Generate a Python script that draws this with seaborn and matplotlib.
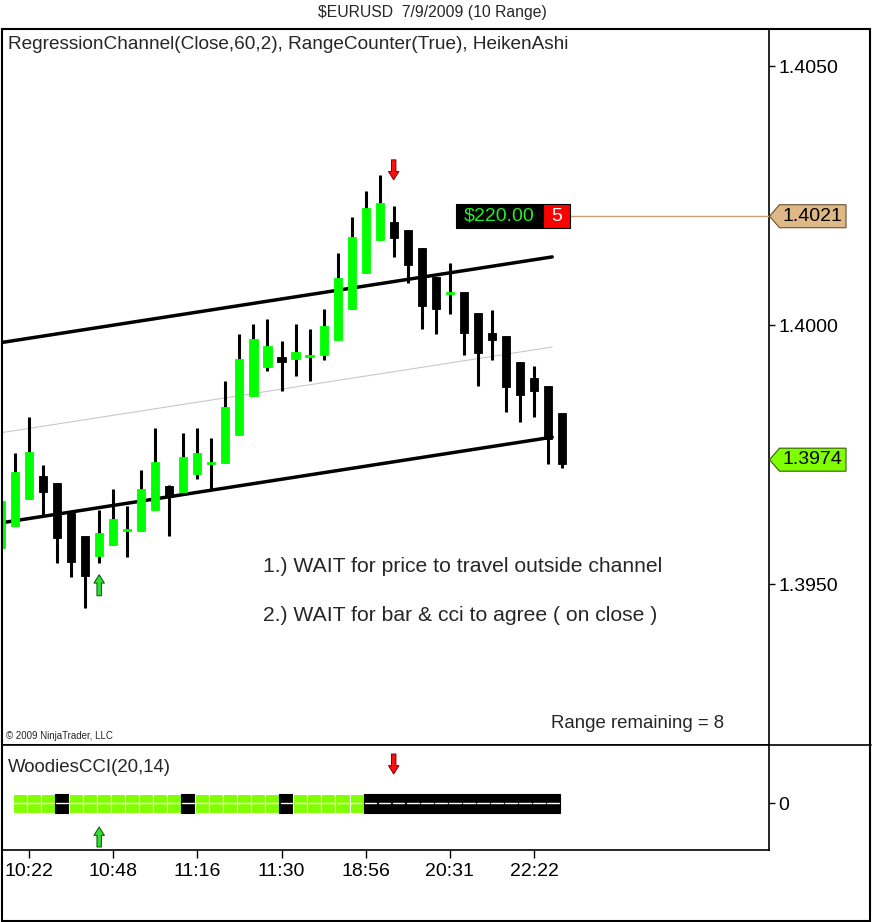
import numpy as np
import pandas as pd
import matplotlib
matplotlib.use("Agg")
import matplotlib.pyplot as plt
import matplotlib.transforms as mtrans
from matplotlib.patches import Polygon, Rectangle
from matplotlib.lines import Line2D
import seaborn as sns

# ---------------- data (Heiken Ashi 10-range bars, $EURUSD 7/9/2009) ----------------
opens = [1.39570, 1.39612, 1.39664, 1.39709, 1.39695, 1.39637, 1.39593, 1.39554, 1.39575, 1.39602,
         1.39602, 1.39643, 1.39689, 1.39678, 1.39712, 1.39732, 1.39734, 1.39788, 1.39863, 1.39919,
         1.39938, 1.39934, 1.39938, 1.39942, 1.39971, 1.40031, 1.40100, 1.40164, 1.40199, 1.40183,
         1.40149, 1.40093, 1.40060, 1.40064, 1.40023, 1.39985, 1.39979, 1.39929, 1.39898, 1.39882,
         1.39830]
highs = [1.39660, 1.39753, 1.39822, 1.39730, 1.39695, 1.39637, 1.39593, 1.39643, 1.39683, 1.39651,
         1.39720, 1.39801, 1.39692, 1.39792, 1.39801, 1.39782, 1.39892, 1.39983, 1.40002, 1.40012,
         1.39969, 1.40002, 1.39992, 1.40031, 1.40139, 1.40208, 1.40259, 1.40290, 1.40230, 1.40183,
         1.40149, 1.40093, 1.40120, 1.40064, 1.40023, 1.40029, 1.39979, 1.39929, 1.39921, 1.39882,
         1.39830]
lows = [1.39570, 1.39612, 1.39664, 1.39633, 1.39541, 1.39514, 1.39454, 1.39541, 1.39575, 1.39552,
        1.39602, 1.39643, 1.39593, 1.39678, 1.39703, 1.39681, 1.39734, 1.39788, 1.39863, 1.39911,
        1.39873, 1.39902, 1.39892, 1.39932, 1.39971, 1.40031, 1.40100, 1.40164, 1.40131, 1.40081,
        1.39992, 1.39983, 1.40021, 1.39942, 1.39882, 1.39932, 1.39832, 1.39813, 1.39822, 1.39732,
        1.39724]
closes = [1.39660, 1.39716, 1.39755, 1.39678, 1.39589, 1.39543, 1.39515, 1.39598, 1.39626, 1.39606,
          1.39683, 1.39736, 1.39668, 1.39745, 1.39753, 1.39736, 1.39842, 1.39934, 1.39973, 1.39960,
          1.39929, 1.39948, 1.39942, 1.39998, 1.40091, 1.40170, 1.40226, 1.40236, 1.40168, 1.40116,
          1.40037, 1.40031, 1.40063, 1.39985, 1.39946, 1.39971, 1.39880, 1.39865, 1.39873, 1.39780,
          1.39732]

# regression channel (Close, 60, 2)
reg_mid_at_bar0 = 1.39792
reg_slope = 0.0000421
reg_half_width = 0.00174
reg_end_bar = 39.3

# Woodies CCI trend colour for each step between consecutive bars (bar 1 -> bar 40)
cci_states = ["G"] * 3 + ["B"] + ["G"] * 8 + ["B"] + ["G"] * 6 + ["B"] + ["G"] * 5 + ["B"] * 14

buy_signal_bar = 7
sell_signal_bar = 28

price_ticks = [1.3950, 1.4000, 1.4050]
time_tick_bars = [2, 8, 14, 20, 26, 32, 38]
time_tick_labels = ["10:22", "10:48", "11:16", "11:30", "18:56", "20:31", "22:22"]

position_price = 1.4021
last_price = 1.3974
pnl_text = "$220.00"
position_qty = "5"
range_remaining = 8

title = "$EURUSD  7/9/2009 (10 Range)"
indicator_label = "RegressionChannel(Close,60,2), RangeCounter(True), HeikenAshi"
cci_label = "WoodiesCCI(20,14)"
notes = ["1.) WAIT for price to travel outside channel",
         "2.) WAIT for bar & cci to agree ( on close )"]

# ---------------- style ----------------
sns.set_theme(style="white")
plt.rcParams["font.family"] = ["Liberation Sans", "DejaVu Sans"]
NARROW = ["Liberation Sans Narrow", "Liberation Sans", "DejaVu Sans"]

W, H = 872, 922
fig = plt.figure(figsize=(W / 100, H / 100), dpi=100)
fig.patch.set_facecolor("white")


def fbox(l, t, r, b):
    return [l / W, 1 - b / H, (r - l) / W, (b - t) / H]


ax = fig.add_axes(fbox(2, 29, 769, 745))
cx = fig.add_axes(fbox(2, 745, 769, 850), sharex=ax)

BAR_PX = 14.025
ax.set_xlim(1 / BAR_PX, 768 / BAR_PX)
PX_PER_PRICE = 51800.0
ax.set_ylim(1.4 - 420 / PX_PER_PRICE, 1.4 + 296 / PX_PER_PRICE)

GREEN = "#00FF00"
df = pd.DataFrame(dict(bar=np.arange(len(opens)), open=opens, high=highs, low=lows, close=closes))
df["up"] = df["close"] >= df["open"]

# regression channel via seaborn
reg_x = np.array([-40.0, reg_end_bar])
mid = reg_mid_at_bar0 + reg_slope * reg_x
chan = pd.DataFrame({
    "bar": np.concatenate([reg_x, reg_x, reg_x]),
    "price": np.concatenate([mid + reg_half_width, mid, mid - reg_half_width]),
    "line": ["upper"] * 2 + ["mid"] * 2 + ["lower"] * 2,
})
sns.lineplot(data=chan, x="bar", y="price", hue="line", size="line",
             palette={"upper": "black", "mid": "#c8c8c8", "lower": "black"},
             sizes={"upper": 2.5, "mid": 0.8, "lower": 2.5},
             estimator=None, sort=False, legend=False, ax=ax, zorder=1)

# candles
ax.vlines(df["bar"], df["low"], df["high"], color="black", lw=2.2, zorder=2)
bottoms = np.minimum(df["open"], df["close"])
heights = np.maximum(np.abs(df["close"] - df["open"]), 0.00003)
colors = np.where(df["up"], GREEN, "black")
ax.bar(df["bar"], heights, bottom=bottoms, width=0.58, color=colors,
       edgecolor=colors, linewidth=0.6, zorder=3)

# signal arrows
def arrow(axis, x, y, dy_px, gap_px, fc, ec):
    axis.annotate("", xy=(x, y), xytext=(0, dy_px * 0.72), textcoords="offset points",
                  arrowprops=dict(arrowstyle="simple,head_length=0.6,head_width=0.75,tail_width=0.32",
                                  fc=fc, ec=ec, lw=0.7, shrinkA=0, shrinkB=gap_px * 0.72,
                                  mutation_scale=10), zorder=6)

arrow(ax, sell_signal_bar, highs[sell_signal_bar], 46, 26, "#FF1010", "#800000")
arrow(ax, buy_signal_bar, lows[buy_signal_bar], -33, 12, "#33DD33", "#005500")

# price axis on the right
for a in (ax, cx):
    a.yaxis.tick_right()
    a.tick_params(axis="y", direction="out", length=4, width=1, pad=3, labelsize=14,
                  colors="black", right=True, left=False)
    a.tick_params(axis="x", bottom=False, labelbottom=False)
    for s in a.spines.values():
        s.set_color("black")
        s.set_linewidth(1.2)
ax.set_yticks(price_ticks)
ax.set_yticklabels([f"{p:.4f}" for p in price_ticks])
ax.spines["top"].set_visible(False)
ax.spines["left"].set_visible(False)
ax.set_xlabel("")
ax.set_ylabel("")

# texts in price panel
AXW, AXH = 767, 716
ax.text(6 / AXW, 1 - (44 - 29) / AXH, indicator_label, transform=ax.transAxes, fontsize=13.7,
        ha="left", va="center", parse_math=False)
for i, t in enumerate(notes):
    ax.text((263 - 2) / AXW, 1 - (567 - 29 + 48 * i) / AXH, t, transform=ax.transAxes,
            fontsize=15.2, ha="left", va="center", parse_math=False)
ax.text((724 - 2) / AXW, 1 - (723 - 29) / AXH, f"Range remaining = {range_remaining}",
        transform=ax.transAxes, fontsize=13.4, ha="right", va="center", parse_math=False)
ax.text(4 / AXW, 1 - (736 - 29) / AXH, "\u00a9 2009 NinjaTrader, LLC", transform=ax.transAxes,
        fontsize=7, family=NARROW, ha="left", va="center", parse_math=False)

# price markers on the axis
bt = mtrans.blended_transform_factory(ax.transAxes, ax.transData)
def axis_tag(price, fc, ec):
    tip = 1.0 + 0.5 / AXW
    sh = 10 / AXW
    x1 = (846 - 2) / AXW
    hh = 11.5 / PX_PER_PRICE
    poly = Polygon([(tip, price), (tip + sh, price + hh), (x1, price + hh), (x1, price - hh),
                    (tip + sh, price - hh)], closed=True, fc=fc, ec=ec, lw=0.8,
                   transform=bt, clip_on=False, zorder=8)
    ax.add_patch(poly)
    ax.text((x1 + tip + sh) / 2, price, f"{price:.4f}", transform=bt, ha="center", va="center",
            fontsize=14, color="black", clip_on=False, zorder=9)

ax.plot([(570 - 2) / AXW, 1.0], [position_price, position_price], transform=bt,
        color="#C8A072", lw=1.0, zorder=4, clip_on=False)
axis_tag(position_price, "#DEB887", "#6B5030")
axis_tag(last_price, "#7FFF00", "#2F5F00")

# PnL box
hh = 12 / PX_PER_PRICE
ax.add_patch(Rectangle(((456 - 2) / AXW, position_price - hh), 87 / AXW, 2 * hh, transform=bt,
                       fc="black", ec="black", lw=0.8, zorder=7))
ax.add_patch(Rectangle(((543 - 2) / AXW, position_price - hh), 27 / AXW, 2 * hh, transform=bt,
                       fc="#FF0000", ec="black", lw=0.8, zorder=7))
ax.text((499.5 - 2) / AXW, position_price, pnl_text, transform=bt, ha="center", va="center",
        fontsize=14, color="#22EE22", zorder=8, parse_math=False)
ax.text((556.5 - 2) / AXW, position_price, position_qty, transform=bt, ha="center", va="center",
        fontsize=14, color="white", zorder=8)

# ---------------- CCI panel ----------------
cx.set_ylim(-47, 58)
cx.set_facecolor("white")
seg_color = {"G": "#7FFF00", "B": "black"}
for k, st in enumerate(cci_states):
    x0 = 1 + k - 0.15
    c = seg_color[st]
    cx.add_patch(Rectangle((x0, -9.5), 1, 19, fc=c, ec=("white" if st == "G" else c),
                           lw=0.8, zorder=3))
    cx.plot([x0 + 0.08, x0 + 0.92], [0, 0], color="white", lw=1.0, zorder=4)
cx.set_yticks([0])
cx.set_yticklabels(["0"])
cx.text(6 / AXW, 1 - 22 / 105, cci_label, transform=cx.transAxes, fontsize=13.4,
        ha="left", va="center")
arrow(cx, sell_signal_bar, 29, 20, 0, "#FF1010", "#800000")
arrow(cx, buy_signal_bar, -24, -20, 0, "#33DD33", "#005500")

cx.set_xticks(time_tick_bars)
cx.set_xticklabels(time_tick_labels, family=NARROW, fontsize=14)
cx.tick_params(axis="x", bottom=True, labelbottom=True, direction="out", length=6, width=1,
               pad=3, colors="black")
cx.spines["left"].set_visible(False)
cx.spines["top"].set_visible(False)
cx.set_xlabel("")
cx.set_ylabel("")

# ---------------- frame & title ----------------
fig.add_artist(Rectangle((1.5 / W, 1 - 921 / H), 868.5 / W, (921 - 29) / H, transform=fig.transFigure,
                         fill=False, ec="black", lw=1.5))
fig.add_artist(Line2D([2 / W, 871 / W], [1 - 745 / H, 1 - 745 / H], transform=fig.transFigure,
                      color="black", lw=1.2))
fig.text(432 / W, 1 - 13 / H, title, ha="center", va="center", fontsize=11.3, family=NARROW,
         parse_math=False)

fig.savefig("out.png", dpi=100, facecolor="white")
